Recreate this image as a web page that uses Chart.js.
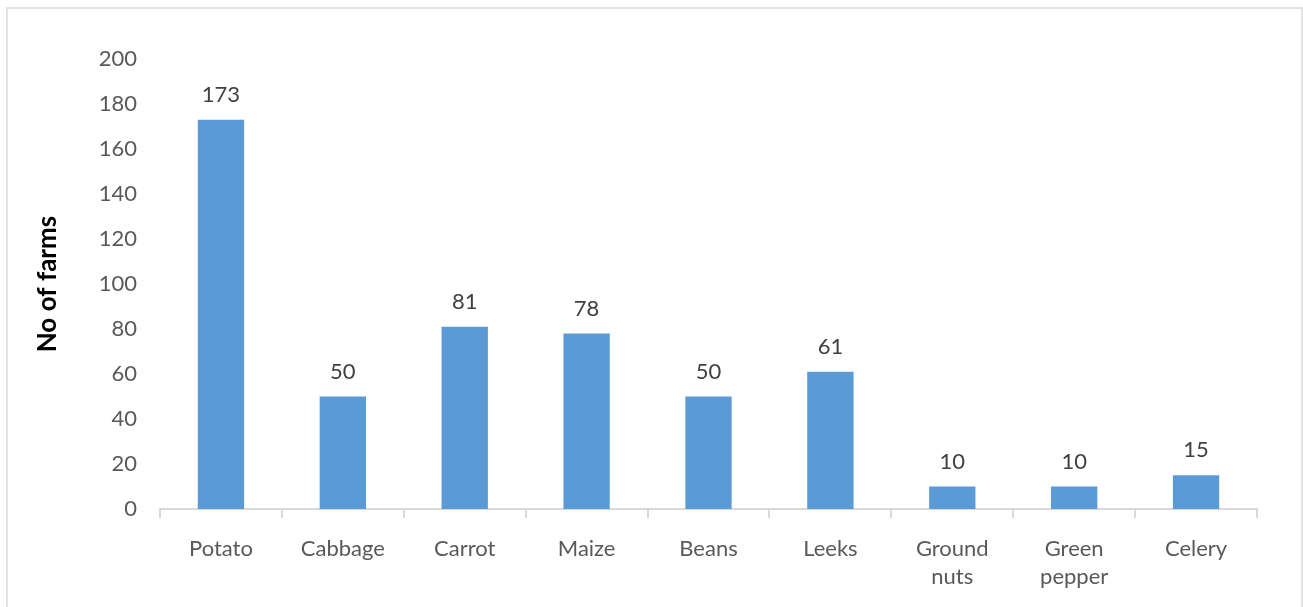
<!DOCTYPE html>
<html>
<head>
<meta charset="utf-8">
<script src="https://cdn.jsdelivr.net/npm/chart.js@4/dist/chart.umd.min.js"></script>
<style>
  html, body { margin: 0; padding: 0; background: #ffffff; }
  #wrap { position: relative; width: 1303px; height: 607px; overflow: hidden; }
  #frame {
    position: absolute; left: 6px; top: 7px; width: 1293px; height: 620px;
    border: 2px solid #e3e3e3; pointer-events: none;
  }
  canvas { position: absolute; left: 0; top: 0; }
</style>
</head>
<body>
<div id="wrap">
  <canvas id="c" width="1303" height="607"></canvas>
  <div id="frame"></div>
</div>
<script>
// Number of farms growing each crop
const crops = ['Potato', 'Cabbage', 'Carrot', 'Maize', 'Beans', 'Leeks', ['Ground', 'nuts'], ['Green', 'pepper'], 'Celery'];
const farms = [173, 50, 81, 78, 50, 61, 10, 10, 15];
const yTicks = [0, 20, 40, 60, 80, 100, 120, 140, 160, 180, 200];

const FONT = 'Lato, "Liberation Sans", sans-serif';
const TEXT = '#595959';

// Writes each bar's value just above it
const valueLabels = {
  id: 'valueLabels',
  afterDatasetsDraw(chart) {
    const ctx = chart.ctx;
    const meta = chart.getDatasetMeta(0);
    ctx.save();
    ctx.font = '22px ' + FONT;
    ctx.fillStyle = '#404040';
    ctx.textAlign = 'center';
    ctx.textBaseline = 'middle';
    meta.data.forEach((bar, i) => {
      ctx.fillText(String(farms[i]), bar.x, bar.y - 25);
    });
    ctx.restore();
  }
};

new Chart(document.getElementById('c'), {
  type: 'bar',
  data: {
    labels: crops,
    datasets: [{
      data: farms,
      backgroundColor: '#5b9bd5',
      borderWidth: 0,
      barPercentage: 0.38,
      categoryPercentage: 1.0
    }]
  },
  options: {
    responsive: false,
    animation: false,
    layout: { padding: { left: 0, top: 59, right: 46, bottom: 0 } },
    plugins: { legend: { display: false }, tooltip: { enabled: false } },
    scales: {
      x: {
        grid: {
          display: true,
          drawOnChartArea: false,
          drawTicks: true,
          tickLength: 9,
          color: '#d9d9d9',
          lineWidth: 2
        },
        border: { display: true, color: '#d9d9d9', width: 2 },
        ticks: {
          color: TEXT,
          font: { family: FONT, size: 22, lineHeight: 1.27 },
          padding: 17,
          maxRotation: 0,
          autoSkip: false
        },
        afterFit(scale) { scale.height = 98; }
      },
      y: {
        min: 0,
        max: 200,
        afterBuildTicks(scale) { scale.ticks = yTicks.map(v => ({ value: v })); },
        grid: { display: false, drawTicks: false },
        border: { display: false },
        ticks: {
          color: TEXT,
          font: { family: FONT, size: 22 },
          padding: 23
        },
        title: {
          display: true,
          text: 'No of farms',
          color: '#000000',
          font: { family: FONT, size: 26, weight: 'bold' },
          padding: { top: 32, bottom: 0 }
        },
        afterFit(scale) { scale.width = 160; }
      }
    }
  },
  plugins: [valueLabels]
});
</script>
</body>
</html>
